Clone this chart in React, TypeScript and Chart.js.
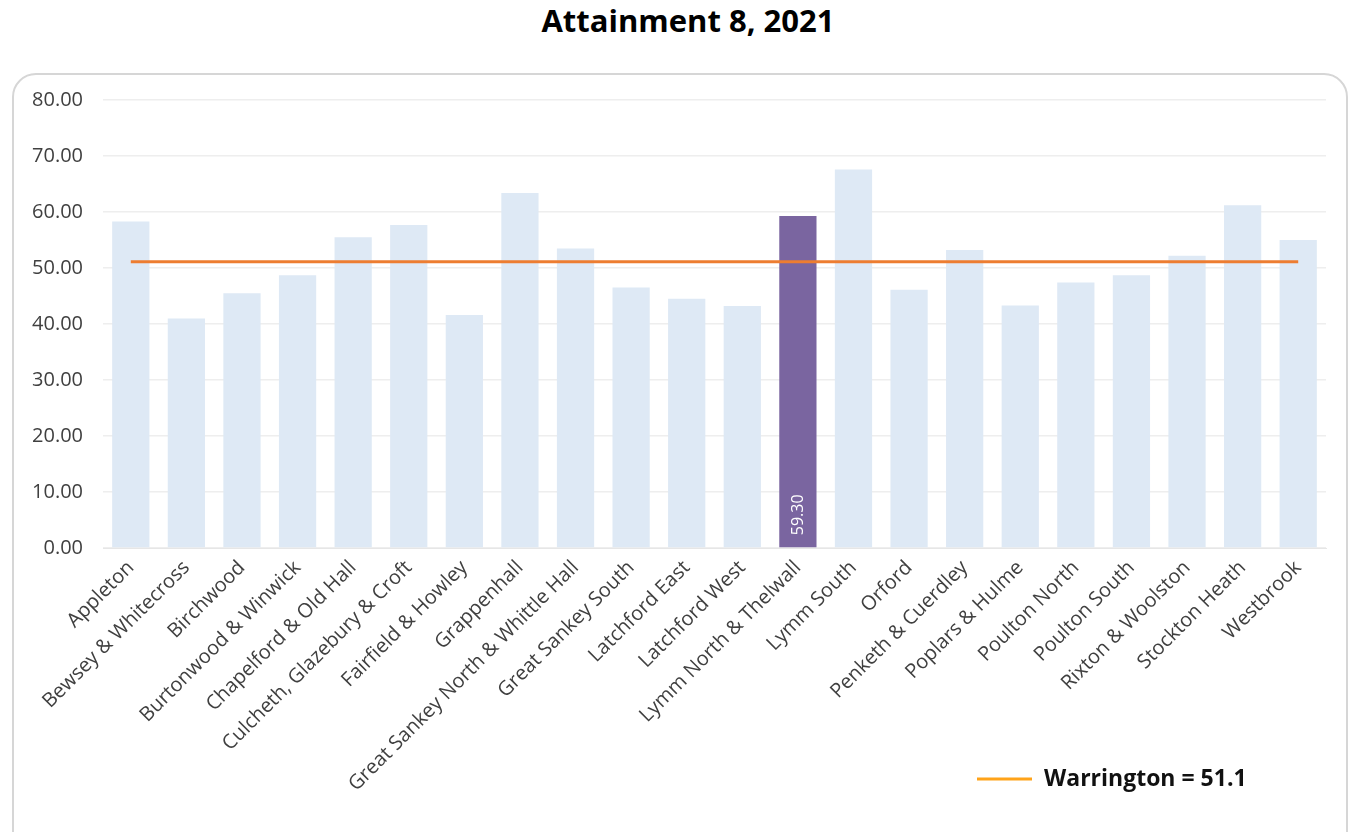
import React, { useEffect, useRef } from "react";
import { Chart, registerables } from "chart.js";

Chart.register(...registerables);

const categories = [
  "Appleton",
  "Bewsey & Whitecross",
  "Birchwood",
  "Burtonwood & Winwick",
  "Chapelford & Old Hall",
  "Culcheth, Glazebury & Croft",
  "Fairfield & Howley",
  "Grappenhall",
  "Great Sankey North & Whittle Hall",
  "Great Sankey South",
  "Latchford East",
  "Latchford West",
  "Lymm North & Thelwall",
  "Lymm South",
  "Orford",
  "Penketh & Cuerdley",
  "Poplars & Hulme",
  "Poulton North",
  "Poulton South",
  "Rixton & Woolston",
  "Stockton Heath",
  "Westbrook",
];

const attainment = [
  58.3, 41.0, 45.5, 48.7, 55.5, 57.7, 41.6, 63.4, 53.5, 46.5, 44.5, 43.2,
  59.3, 67.6, 46.1, 53.2, 43.3, 47.4, 48.7, 52.2, 61.2, 55.0,
];

const warrington = 51.1;
const highlighted = "Lymm North & Thelwall";
const yTicks = [0, 10, 20, 30, 40, 50, 60, 70, 80];

const FONT = "'Open Sans', Lato, sans-serif";

export default function App() {
  const ref = useRef<HTMLCanvasElement | null>(null);

  useEffect(() => {
    const prevMargin = document.body.style.margin;
    document.body.style.margin = "0";
    const canvas = ref.current;
    if (!canvas) return;

    const hiIndex = categories.indexOf(highlighted);

    const labelPlugin = {
      id: "hiLabel",
      afterDatasetsDraw(chart: any) {
        const meta = chart.getDatasetMeta(1);
        const el = meta.data[hiIndex];
        if (!el) return;
        const ctx = chart.ctx;
        ctx.save();
        ctx.translate(el.x, el.base - 12);
        ctx.rotate(-Math.PI / 2);
        ctx.fillStyle = "#ffffff";
        ctx.font = `16px ${FONT}`;
        ctx.textAlign = "left";
        ctx.textBaseline = "middle";
        ctx.fillText(attainment[hiIndex].toFixed(2), 0, 1);
        ctx.restore();
      },
    };

    const legendPlugin = {
      id: "customLegend",
      afterDraw(chart: any) {
        const ctx = chart.ctx;
        ctx.save();
        ctx.strokeStyle = "#FFA319";
        ctx.lineWidth = 3;
        ctx.beginPath();
        ctx.moveTo(977, 779);
        ctx.lineTo(1032, 779);
        ctx.stroke();
        ctx.fillStyle = "#111111";
        ctx.font = `bold 23px ${FONT}`;
        ctx.textAlign = "left";
        ctx.textBaseline = "middle";
        ctx.fillText(`Warrington = ${warrington}`, 1044, 779);
        ctx.restore();
      },
    };

    const chart = new Chart(canvas, {
      data: {
        labels: categories,
        datasets: [
          {
            type: "line",
            label: `Warrington = ${warrington}`,
            data: categories.map(() => warrington),
            borderColor: "#ED7D31",
            borderWidth: 3,
            pointRadius: 0,
            order: 0,
          },
          {
            type: "bar",
            label: "Attainment 8",
            data: attainment,
            backgroundColor: categories.map((c) =>
              c === highlighted ? "#7A65A0" : "#DEE9F5"
            ),
            borderWidth: 0,
            barPercentage: 0.67,
            categoryPercentage: 1,
            order: 1,
          },
        ],
      } as any,
      options: {
        animation: false,
        responsive: false,
        maintainAspectRatio: false,
        layout: { padding: { top: 100, right: 26, left: 0, bottom: 0 } },
        plugins: {
          legend: { display: false },
          title: { display: false },
          tooltip: { enabled: false },
        },
        scales: {
          x: {
            grid: { display: false, drawTicks: false },
            border: { display: true, color: "#e6e6e6" },
            ticks: {
              minRotation: 45,
              maxRotation: 45,
              autoSkip: false,
              padding: 8,
              color: "#404040",
              font: { family: FONT, size: 20 },
            },
            afterFit(scale: any) {
              scale.height = 832 - 548;
            },
          },
          y: {
            min: 0,
            max: 80,
            afterBuildTicks(scale: any) {
              scale.ticks = yTicks.map((v) => ({ value: v }));
            },
            grid: { color: "#eeeeee", lineWidth: 1.5, drawTicks: false },
            border: { display: false },
            ticks: {
              padding: 20,
              color: "#404040",
              font: { family: FONT, size: 20 },
              callback: (v: any) => Number(v).toFixed(2),
            },
            afterFit(scale: any) {
              scale.width = 103;
            },
          },
        },
      },
      plugins: [labelPlugin, legendPlugin],
    });

    return () => {
      chart.destroy();
      document.body.style.margin = prevMargin;
    };
  }, []);

  return (
    <div style={{ position: "absolute", left: 0, top: 0, width: 1352, height: 832, overflow: "hidden", background: "#fff" }}>
      <div
        style={{
          position: "absolute",
          left: 0,
          top: -1,
          width: 1352,
          textAlign: "center",
          fontFamily: FONT,
          fontWeight: 700,
          fontSize: 31,
          color: "#000",
          paddingLeft: 24,
          boxSizing: "border-box",
        }}
      >
        Attainment 8, 2021
      </div>
      <div
        style={{
          position: "absolute",
          left: 12,
          top: 73,
          width: 1336,
          height: 800,
          border: "2px solid #d6d6d6",
          borderRadius: 24,
          boxSizing: "border-box",
        }}
      />
      <canvas ref={ref} width={1352} height={832} style={{ position: "absolute", left: 0, top: 0 }} />
    </div>
  );
}
